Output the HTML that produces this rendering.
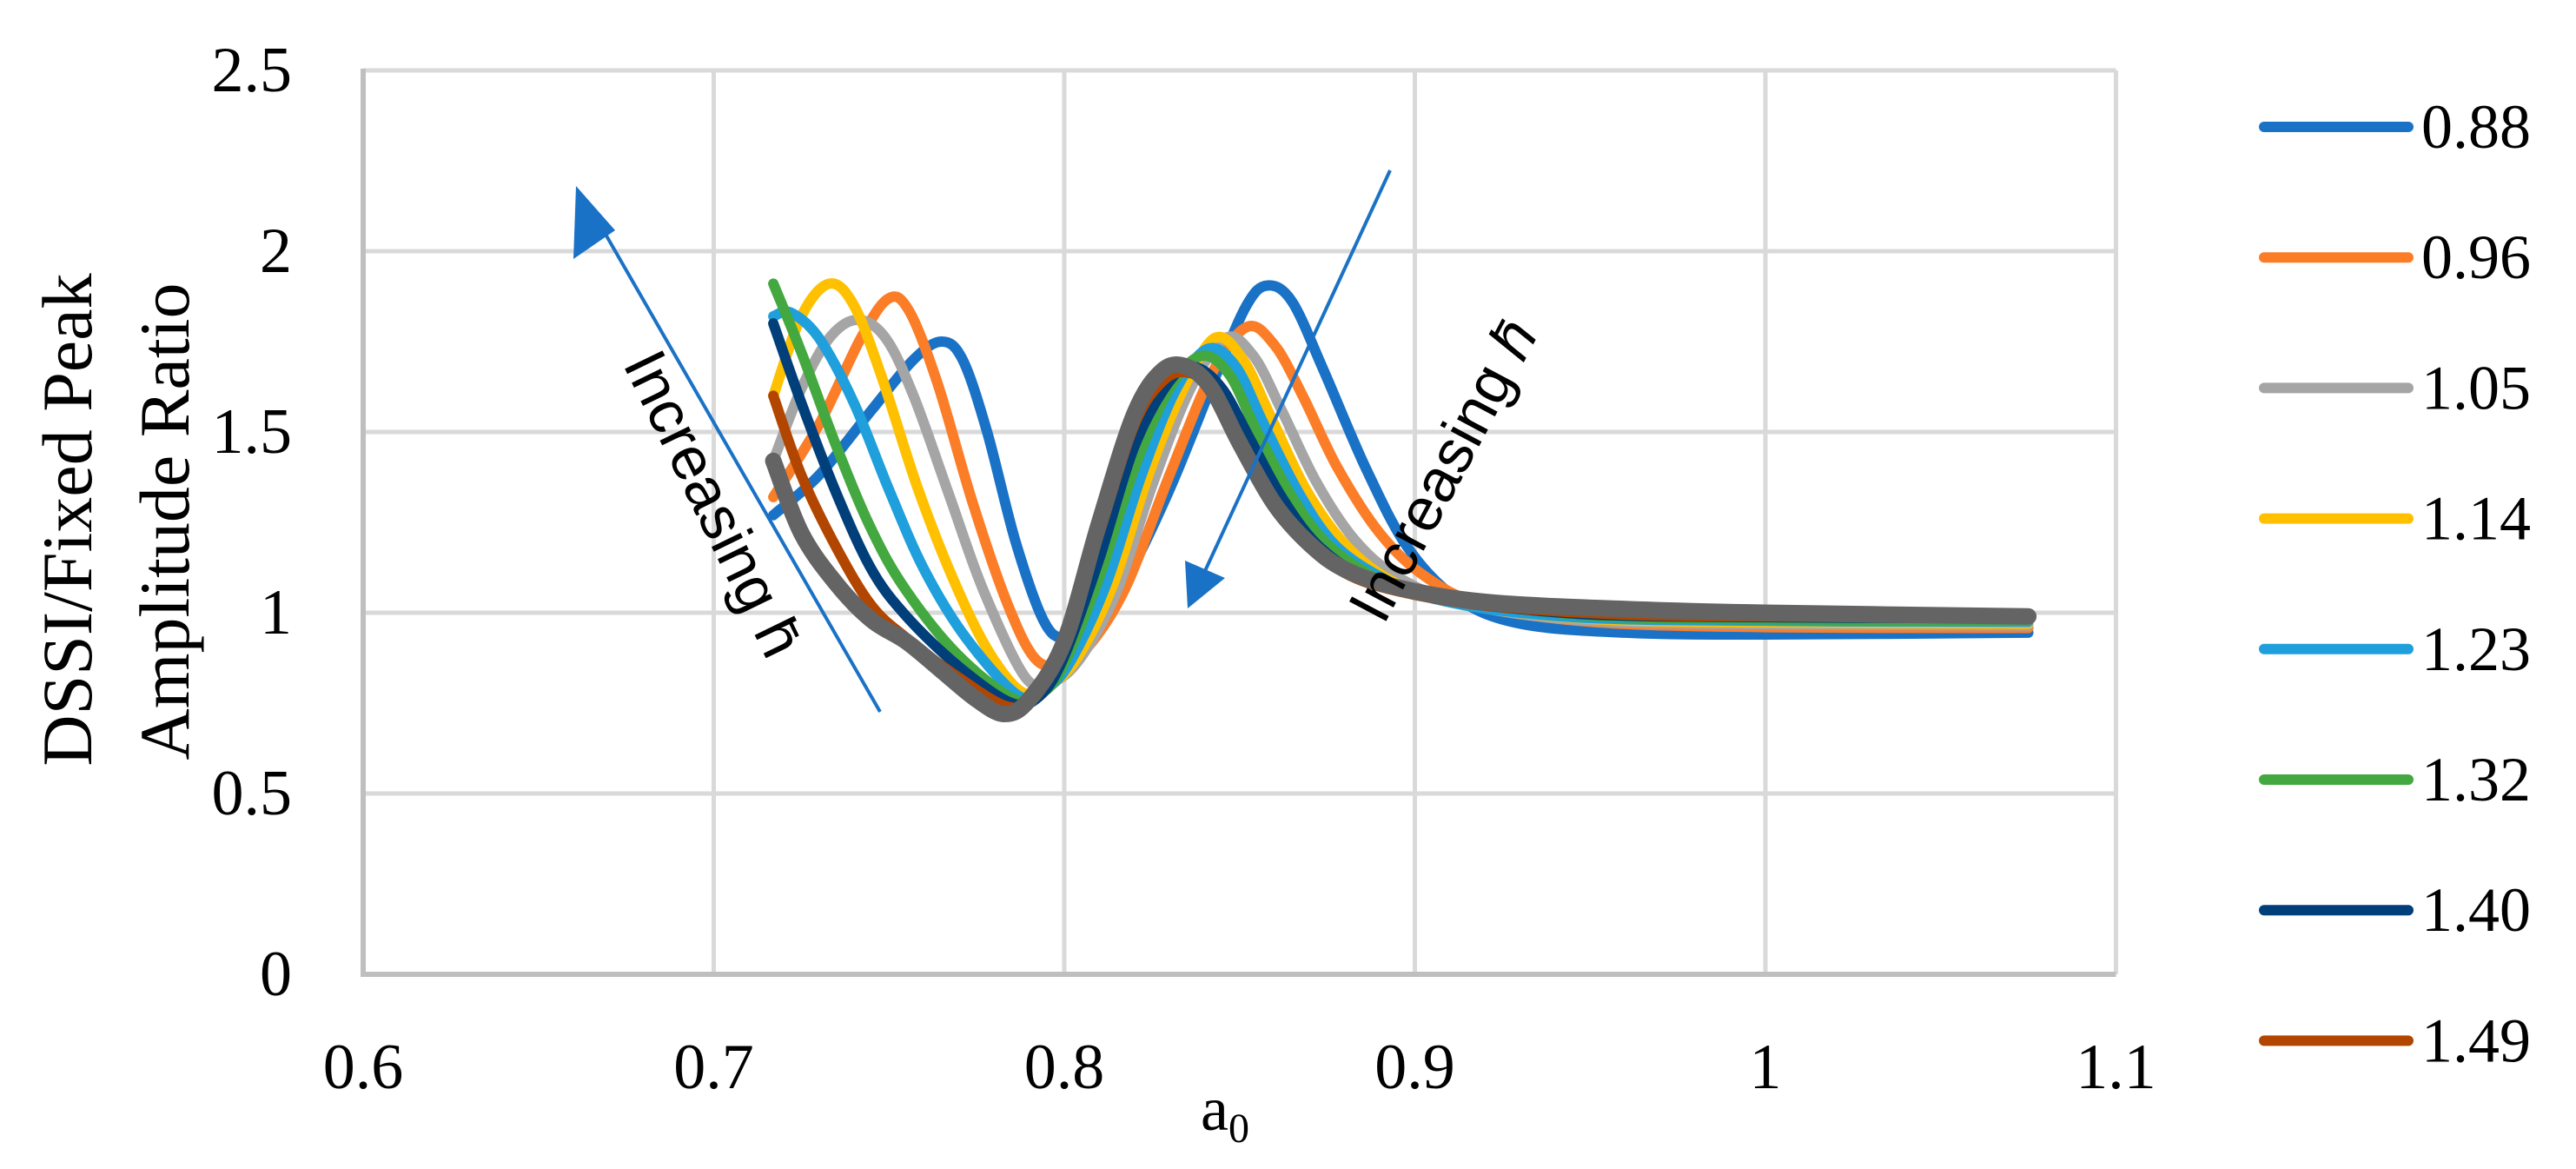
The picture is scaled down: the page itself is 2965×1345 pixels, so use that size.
<!DOCTYPE html>
<html><head><meta charset="utf-8"><style>
html,body{margin:0;padding:0;background:#fff;}
svg{display:block;}
</style></head><body>
<svg id="chart" width="2965" height="1345" viewBox="0 0 2965 1345" xmlns="http://www.w3.org/2000/svg">
<g id="grid"></g>
<g id="axes"></g>
<g id="series"></g>
<g id="legend"></g>
<g font-family="Liberation Serif, serif" font-size="82" fill="#000" text-anchor="middle">
  <text transform="translate(105,598) rotate(-90)">DSSI/Fixed Peak</text>
  <text transform="translate(217,600) rotate(-90)">Amplitude Ratio</text>
</g>
<text x="1410" y="1300" font-family="Liberation Serif, serif" font-size="72" text-anchor="middle">a<tspan font-size="48" dy="14">0</tspan></text>
<g>
  <line x1="1013" y1="819" x2="680" y2="240" stroke="#1a72c6" stroke-width="4"/>
  <polygon points="663,214 708,265 660,298" fill="#1a72c6"/>
  <text transform="translate(800,590) rotate(64)" font-family="Liberation Sans, sans-serif" font-size="70" text-anchor="middle" fill="#000">Increasing h̄</text>
</g>
<g>
  <line x1="1600" y1="196" x2="1380" y2="672" stroke="#1a72c6" stroke-width="4"/>
  <polygon points="1367,700 1364,645 1410,665" fill="#1a72c6"/>
  <text transform="translate(1682,552) rotate(-62)" font-family="Liberation Sans, sans-serif" font-size="70" text-anchor="middle" fill="#000">Increasing <tspan font-style="italic">h̄</tspan></text>
</g>
</svg>
<script>
const xTicks = [0.6, 0.7, 0.8, 0.9, 1.0, 1.1];
const xTickLabels = ["0.6", "0.7", "0.8", "0.9", "1", "1.1"];
const yTicks = [0, 0.5, 1, 1.5, 2, 2.5];
const yTickLabels = ["0", "0.5", "1", "1.5", "2", "2.5"];
const seriesNames = ["0.88", "0.96", "1.05", "1.14", "1.23", "1.32", "1.40", "1.49", "1.58"];
const seriesColors = ["#1a72c6", "#fb7d28", "#a5a5a5", "#ffc000", "#1f9fdb", "#43a83f", "#003f7a", "#b24600", "#646464"];
const x088 = [0.717,0.73,0.745,0.757,0.765,0.771,0.778,0.786,0.794,0.8,0.808,0.818,0.83,0.843,0.852,0.858,0.865,0.874,0.886,0.898,0.912,0.93,0.96,1.0,1.075];
const y088 = [1.27,1.38,1.56,1.70,1.75,1.70,1.50,1.20,0.98,0.93,0.97,1.10,1.34,1.65,1.85,1.905,1.86,1.67,1.40,1.18,1.04,0.97,0.945,0.94,0.945];
const x096 = [0.717,0.73,0.742,0.75,0.756,0.764,0.774,0.784,0.792,0.8,0.808,0.818,0.83,0.842,0.852,0.86,0.868,0.878,0.89,0.903,0.92,0.95,1.0,1.075];
const y096 = [1.32,1.52,1.76,1.87,1.83,1.63,1.30,1.02,0.87,0.86,0.92,1.08,1.38,1.66,1.79,1.74,1.60,1.40,1.22,1.10,1.02,0.975,0.96,0.958];
const x105 = [0.717,0.725,0.733,0.741,0.749,0.757,0.767,0.777,0.789,0.797,0.805,0.815,0.825,0.836,0.846,0.854,0.862,0.872,0.883,0.895,0.912,0.94,0.98,1.075];
const y105 = [1.42,1.62,1.76,1.81,1.76,1.60,1.33,1.06,0.82,0.81,0.88,1.06,1.35,1.62,1.76,1.71,1.56,1.36,1.20,1.10,1.03,0.985,0.97,0.965];
const x114 = [0.717,0.725,0.733,0.74,0.748,0.758,0.768,0.778,0.788,0.796,0.804,0.814,0.824,0.834,0.843,0.851,0.859,0.869,0.88,0.893,0.91,0.94,0.98,1.075];
const y114 = [1.60,1.82,1.91,1.85,1.65,1.35,1.10,0.90,0.78,0.80,0.88,1.08,1.38,1.62,1.76,1.70,1.54,1.34,1.19,1.09,1.03,0.99,0.975,0.97];
const x123 = [0.717,0.722,0.73,0.74,0.75,0.76,0.772,0.787,0.795,0.802,0.812,0.822,0.832,0.841,0.849,0.857,0.867,0.877,0.89,0.905,0.93,0.97,1.075];
const y123 = [1.82,1.83,1.76,1.58,1.34,1.12,0.93,0.77,0.79,0.87,1.08,1.38,1.62,1.73,1.68,1.52,1.33,1.19,1.10,1.04,1.0,0.98,0.975];
const x132 = [0.717,0.725,0.735,0.745,0.755,0.77,0.786,0.794,0.8,0.81,0.82,0.83,0.839,0.847,0.855,0.865,0.875,0.888,0.9,0.93,0.97,1.075];
const y132 = [1.91,1.72,1.46,1.23,1.06,0.88,0.76,0.78,0.86,1.10,1.40,1.62,1.71,1.66,1.50,1.32,1.19,1.10,1.05,1.01,0.985,0.98];
const x140 = [0.717,0.725,0.735,0.745,0.755,0.77,0.785,0.793,0.8,0.81,0.82,0.83,0.837,0.845,0.853,0.862,0.872,0.885,0.9,0.93,0.97,1.075];
const y140 = [1.80,1.58,1.33,1.12,0.99,0.85,0.75,0.77,0.88,1.15,1.46,1.64,1.68,1.62,1.48,1.32,1.19,1.10,1.05,1.01,0.99,0.985];
const x149 = [0.717,0.725,0.735,0.745,0.755,0.77,0.784,0.792,0.8,0.81,0.82,0.828,0.835,0.842,0.85,0.86,0.87,0.88,0.895,0.92,0.96,1.0,1.075];
const y149 = [1.60,1.38,1.18,1.02,0.93,0.82,0.74,0.77,0.92,1.22,1.52,1.64,1.665,1.62,1.48,1.31,1.19,1.11,1.06,1.02,0.995,0.99,0.985];
const x158 = [0.717,0.725,0.735,0.745,0.755,0.765,0.775,0.783,0.79,0.8,0.81,0.82,0.828,0.835,0.842,0.85,0.86,0.87,0.88,0.895,0.92,0.96,1.0,1.075];
const y158 = [1.42,1.22,1.08,0.98,0.92,0.84,0.76,0.72,0.76,0.92,1.25,1.55,1.67,1.68,1.62,1.47,1.30,1.19,1.12,1.07,1.03,1.01,1.0,0.99];
const seriesX = [x088,x096,x105,x114,x123,x132,x140,x149,x158];
const seriesY = [y088,y096,y105,y114,y123,y132,y140,y149,y158];

const NS = "http://www.w3.org/2000/svg";
const X0 = 418, XPX = 4035, Y0 = 1121, YPX = 416;
function sx(v){ return X0 + (v - 0.6) * XPX; }
function sy(v){ return Y0 - v * YPX; }
function mk(tag, attrs, parent){ const e=document.createElementNS(NS,tag); for(const k in attrs) e.setAttribute(k,attrs[k]); parent.appendChild(e); return e; }

const grid = document.getElementById('grid');
xTicks.forEach((t,i)=>{
  if(i===0) return;
  const l = mk('line',{x1:sx(t),x2:sx(t),y1:sy(2.5),y2:sy(0),stroke:'#d9d9d9','stroke-width':5},grid);
  
  
});
yTicks.forEach((t,i)=>{
  if(i===0) return;
  const l = mk('line',{x1:sx(0.6),x2:sx(1.1),y1:sy(t),y2:sy(t),stroke:'#d9d9d9','stroke-width':5},grid);
  
  
});
const axes = document.getElementById('axes');
const xa = mk('line',{x1:sx(0.6)-3,x2:sx(1.1),y1:sy(0),y2:sy(0),stroke:'#bfbfbf','stroke-width':6},axes);


const ya = mk('line',{x1:sx(0.6),x2:sx(0.6),y1:sy(2.5)-2,y2:sy(0),stroke:'#bfbfbf','stroke-width':6},axes);


xTicks.forEach((t,i)=>{
  const tx = mk('text',{x:sx(t),y:1252,'font-family':'Liberation Serif, serif','font-size':74,'text-anchor':'middle'},axes);
  tx.textContent = xTickLabels[i];
  
  
});
yTicks.forEach((t,i)=>{
  const tx = mk('text',{x:336,y:sy(t)+24,'font-family':'Liberation Serif, serif','font-size':74,'text-anchor':'end'},axes);
  tx.textContent = yTickLabels[i];
  
  
});

function smoothPath(px, py){
  const p = px.map((v,i)=>[sx(v), sy(py[i])]);
  let d = 'M'+p[0][0].toFixed(1)+','+p[0][1].toFixed(1);
  for(let i=0;i<p.length-1;i++){
    const p0=p[Math.max(0,i-1)], p1=p[i], p2=p[i+1], p3=p[Math.min(p.length-1,i+2)];
    const c1x=p1[0]+(p2[0]-p0[0])/6, c1y=p1[1]+(p2[1]-p0[1])/6;
    const c2x=p2[0]-(p3[0]-p1[0])/6, c2y=p2[1]-(p3[1]-p1[1])/6;
    d+=' C'+c1x.toFixed(1)+','+c1y.toFixed(1)+' '+c2x.toFixed(1)+','+c2y.toFixed(1)+' '+p2[0].toFixed(1)+','+p2[1].toFixed(1);
  }
  return d;
}
const sg = document.getElementById('series');
seriesX.forEach((xs,i)=>{
  const path = mk('path',{d:smoothPath(xs, seriesY[i]),fill:'none',stroke:seriesColors[i],'stroke-width':(i===8?19:12),'stroke-linecap':'round','stroke-linejoin':'round'},sg);
  
  
});
const lg = document.getElementById('legend');
for(let i=0;i<8;i++){
  const yy = 146 + i*150.2;
  const g = mk('g',{},lg);
  
  
  mk('line',{x1:2606,x2:2772,y1:yy,y2:yy,stroke:seriesColors[i],'stroke-width':12,'stroke-linecap':'round'},g);
  const t = mk('text',{x:2787,y:yy+24,'font-family':'Liberation Serif, serif','font-size':72},g);
  t.textContent = seriesNames[i];
}
</script>
</body></html>
